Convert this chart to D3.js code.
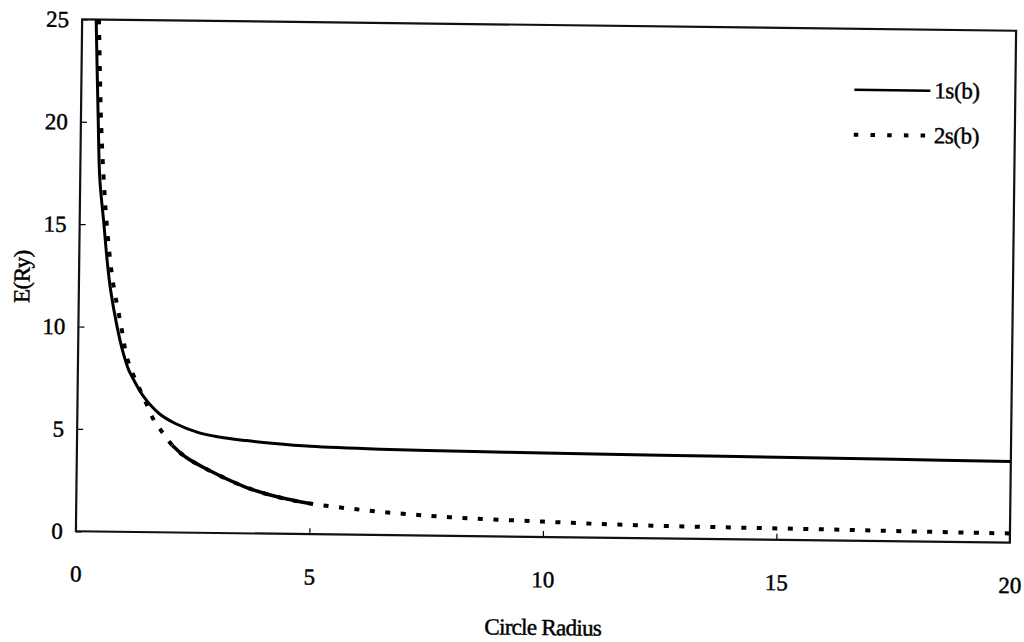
<!DOCTYPE html>
<html>
<head>
<meta charset="utf-8">
<script src="https://cdn.jsdelivr.net/npm/d3@7"></script>
<style>
  html, body { margin: 0; padding: 0; background: #fff; }
  svg { display: block; }
  text { font-family: "Liberation Serif", "Times New Roman", serif; fill: #000; stroke: #000; stroke-width: 0.45px; }
</style>
</head>
<body>
<svg id="chart" width="1024" height="642"></svg>
<script>
// ---- data ----
const radius1s = [0.30,0.37,0.42,0.52,0.60,0.68,0.82,0.94,1.09,1.20,1.42,1.75,2.10,2.60,3.04,3.62,4.11,5.00,6.50,8.50,10.0,12.5,15.0,17.5,20.0];
const energy1s = [25.0,20.1,17.2,15.0,13.2,11.8,10.1,8.95,7.9,7.42,6.6,5.8,5.32,4.89,4.69,4.53,4.43,4.29,4.19,4.13,4.10,4.06,4.03,4.00,3.97];

const radius2s = [0.36,0.43,0.50,0.58,0.72,0.91,1.05,1.20,1.44,1.64,1.82,2.04,2.33,2.76,3.63,4.34,5.00,6.00,7.00,8.00,10.0,12.0,14.0,16.0,18.0,20.0];
const energy2s = [25.0,20.1,17.3,15.0,12.3,10.1,8.5,7.6,6.45,5.47,4.90,4.26,3.69,3.14,2.25,1.78,1.50,1.24,1.05,0.91,0.75,0.63,0.58,0.54,0.49,0.45];

const xTicks = [0, 5, 10, 15, 20];
const yTicks = [0, 5, 10, 15, 20, 25];
const seriesNames = ["1s(b)", "2s(b)"];
const xTitle = "Circle Radius";
const yTitle = "E(Ry)";

// ---- layout ----
const pLeft = 79, pRight = 1013, pTop = 25, pBottom = 537;
const cx = (pLeft + pRight) / 2, cy = (pTop + pBottom) / 2;

const svg = d3.select("#chart");
const g = svg.append("g").attr("transform", `rotate(0.7, ${cx}, ${cy})`);

const x = d3.scaleLinear().domain([0, 20]).range([pLeft, pRight]);
const y = d3.scaleLinear().domain([0, 25]).range([pBottom, pTop]);

// axes
const xAxis = d3.axisBottom(x).tickValues(xTicks).tickSize(-6).tickPadding(34).tickFormat(d3.format("d"));
const yAxis = d3.axisLeft(y).tickValues(yTicks).tickSize(-6).tickPadding(13).tickFormat(d3.format("d"));

const gx = g.append("g").attr("transform", `translate(0,${pBottom})`).call(xAxis);
const gy = g.append("g").attr("transform", `translate(${pLeft},0)`).call(yAxis);
[gx, gy].forEach(a => {
  a.attr("font-family", null);
  a.select(".domain").remove();
  a.selectAll(".tick line").attr("stroke", "#000").attr("stroke-width", 1.2);
  a.selectAll(".tick text").style("font-size", "23px").attr("fill", "#000");
});

// frame
g.append("rect")
  .attr("x", pLeft).attr("y", pTop)
  .attr("width", pRight - pLeft).attr("height", pBottom - pTop)
  .attr("fill", "none").attr("stroke", "#111").attr("stroke-width", 2.2);

// lines
const data1 = radius1s.map((r, i) => ({ r, e: energy1s[i] }));
const data2 = radius2s.map((r, i) => ({ r, e: energy2s[i] }));
const line = d3.line().x(d => x(d.r)).y(d => y(d.e)).curve(d3.curveCatmullRom.alpha(0.5));

g.append("path").datum(data1)
  .attr("d", line).attr("fill", "none")
  .attr("stroke", "#000").attr("stroke-width", 3);

g.append("path").datum(data2)
  .attr("d", line).attr("fill", "none")
  .attr("stroke", "#000").attr("stroke-width", 4)
  .attr("stroke-dasharray", "5,10.5");

// dense section of 2s that renders as a solid band
g.append("path").datum(data2.filter(d => d.r >= 2.0 && d.r <= 5.0))
  .attr("d", line).attr("fill", "none")
  .attr("stroke", "#000").attr("stroke-width", 3.5);

// axis titles
g.append("text")
  .attr("x", cx + 1).attr("y", 635)
  .attr("text-anchor", "middle")
  .style("font-size", "23px").style("letter-spacing", "-0.7px")
  .text(xTitle);

g.append("text")
  .attr("transform", `translate(22,283) rotate(-90)`)
  .attr("text-anchor", "middle").attr("dominant-baseline", "central")
  .style("font-size", "23px").style("letter-spacing", "-0.5px")
  .text(yTitle);

// legend
const legend = g.append("g");
const legY = [86, 131];
legend.append("line")
  .attr("x1", 852).attr("x2", 928).attr("y1", legY[0]).attr("y2", legY[0])
  .attr("stroke", "#000").attr("stroke-width", 2.5);
legend.append("line")
  .attr("x1", 852).attr("x2", 924).attr("y1", legY[1]).attr("y2", legY[1])
  .attr("stroke", "#000").attr("stroke-width", 4)
  .attr("stroke-dasharray", "4.5,12.2");
seriesNames.forEach((name, i) => {
  legend.append("text")
    .attr("x", 932).attr("y", legY[i])
    .attr("dominant-baseline", "central")
    .style("font-size", "23px").style("letter-spacing", "-0.4px")
    .text(name);
});
</script>
</body>
</html>
